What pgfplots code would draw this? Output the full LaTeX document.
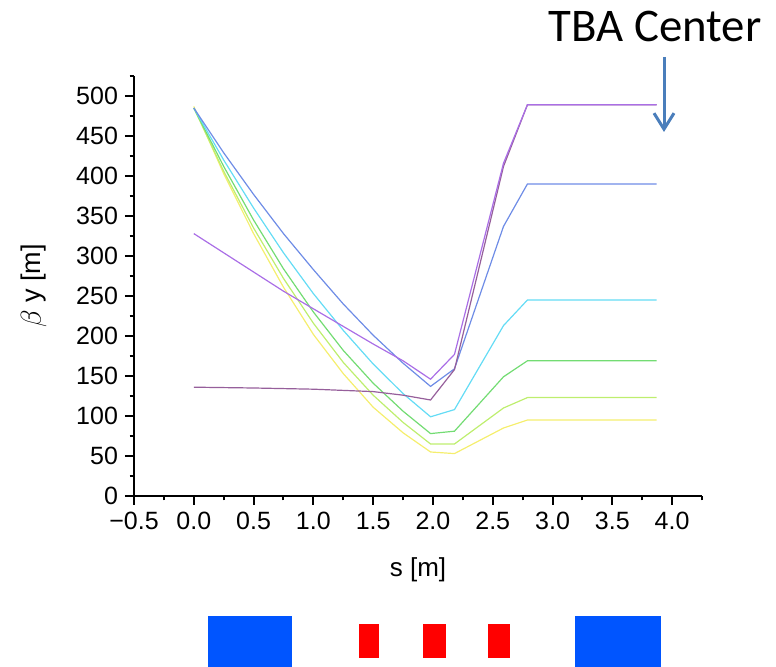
\documentclass[border=0pt]{standalone}
\usepackage{fontspec}
\setmainfont{Liberation Sans}
\newfontfamily\calibri{Carlito}
\usepackage{pgfplots}
\pgfplotsset{compat=1.18}
\usetikzlibrary{arrows.meta}

\definecolor{cviolet}{RGB}{170,110,230}
\definecolor{cmauve}{RGB}{150,95,155}
\definecolor{cblue}{RGB}{110,140,230}
\definecolor{ccyan}{RGB}{100,220,245}
\definecolor{cgreen}{RGB}{115,220,115}
\definecolor{cygreen}{RGB}{190,238,110}
\definecolor{cyellow}{RGB}{245,238,110}
\definecolor{dipole}{RGB}{0,85,255}
\definecolor{arrowblue}{RGB}{74,126,187}

\begin{document}
\begin{tikzpicture}
\path[use as bounding box] (-67pt,-85.5pt) rectangle (321pt,248pt);
\begin{axis}[
    scale only axis,
    width=284pt, height=210pt,
    xmin=-0.5, xmax=4.25, ymin=0, ymax=525,
    axis x line*=bottom, axis y line*=left,
    axis line style={line width=1pt, black},
    tick style={line width=1pt, black},
    tick align=outside,
    major tick length=4.5pt, minor tick length=2.2pt,
    xtick={-0.5,0,0.5,1,1.5,2,2.5,3,3.5,4},
    xticklabels={−0.5,0.0,0.5,1.0,1.5,2.0,2.5,3.0,3.5,4.0},
    minor xtick={-0.25,0.25,0.75,1.25,1.75,2.25,2.75,3.25,3.75,4.25},
    ytick={0,50,...,500},
    yticklabels={0,50,100,150,200,250,300,350,400,450,500},
    minor ytick={25,75,...,525},
    tick label style={font=\fontsize{12.5}{15}\selectfont},
    xlabel={s [m]},
    xlabel style={font=\fontsize{13}{15}\selectfont},
    xlabel shift=7pt,
    ylabel={$\beta$ y [m]},
    ylabel style={font=\fontsize{13.5}{15}\selectfont},
    ylabel shift=8pt,
    clip=false,
    every axis plot/.append style={line width=0.6pt},
]
% lattice elements below the plot
\addplot[draw=none, fill=dipole] coordinates {(0.119,-149.6) (0.821,-149.6) (0.821,-230) (0.119,-230)} --cycle;
\addplot[draw=none, fill=dipole] coordinates {(3.187,-150.4) (3.906,-150.4) (3.906,-230) (3.187,-230)} --cycle;
\addplot[draw=none, fill=red] coordinates {(1.381,-160) (1.549,-160) (1.549,-203) (1.381,-203)} --cycle;
\addplot[draw=none, fill=red] coordinates {(1.916,-160) (2.109,-160) (2.109,-203) (1.916,-203)} --cycle;
\addplot[draw=none, fill=red] coordinates {(2.460,-160) (2.644,-160) (2.644,-203) (2.460,-203)} --cycle;

% beta_y curves
\addplot[cyellow] coordinates {
 (0,487) (0.25,403) (0.5,328) (0.75,261) (1.0,202) (1.25,153) (1.5,111) (1.75,79) (1.98,55)
 (2.18,53) (2.59,85) (2.79,95) (3.87,95)};
\addplot[cygreen] coordinates {
 (0,485) (0.25,406) (0.5,335) (0.75,272) (1.0,216) (1.25,167) (1.5,126) (1.75,92) (1.98,65)
 (2.18,65) (2.59,110) (2.79,123) (3.87,123)};
\addplot[cgreen] coordinates {
 (0,485) (0.25,412) (0.5,345) (0.75,284) (1.0,230) (1.25,182) (1.5,141) (1.75,106) (1.98,78)
 (2.18,81) (2.59,149) (2.79,169) (3.87,169)};
\addplot[ccyan] coordinates {
 (0,485) (0.25,420) (0.5,360) (0.75,304) (1.0,253) (1.25,207) (1.5,165) (1.75,128) (1.98,99)
 (2.18,108) (2.59,213) (2.79,245) (3.87,245)};
\addplot[cblue] coordinates {
 (0,485) (0.25,429) (0.5,377) (0.75,328) (1.0,283) (1.25,240) (1.5,201) (1.75,166) (1.98,137)
 (2.18,159) (2.59,337) (2.79,390) (3.87,390)};
\addplot[cmauve] coordinates {
 (0,136) (0.5,135) (1.0,133.5) (1.5,130.5) (1.75,126) (1.98,120)
 (2.18,158) (2.59,412) (2.79,489) (3.87,489)};
\addplot[cviolet] coordinates {
 (0,328) (0.25,304) (0.5,280) (0.75,256) (1.0,234) (1.25,212) (1.5,190) (1.75,169) (1.98,146)
 (2.18,177) (2.59,416) (2.79,489) (3.87,489)};
\end{axis}
\begin{scope}[x=0.5pt, y=-0.5pt, shift={(-67pt,248pt)}]
\node[font=\calibri\fontsize{23.4}{28}\selectfont, anchor=base, inner sep=0pt] at (655,42) {TBA Center};
\draw[arrowblue, line width=1.5pt, -{Straight Barb[length=8pt,width=10pt]}] (664,57) -- (664,132);
\end{scope}
\end{tikzpicture}
\end{document}
